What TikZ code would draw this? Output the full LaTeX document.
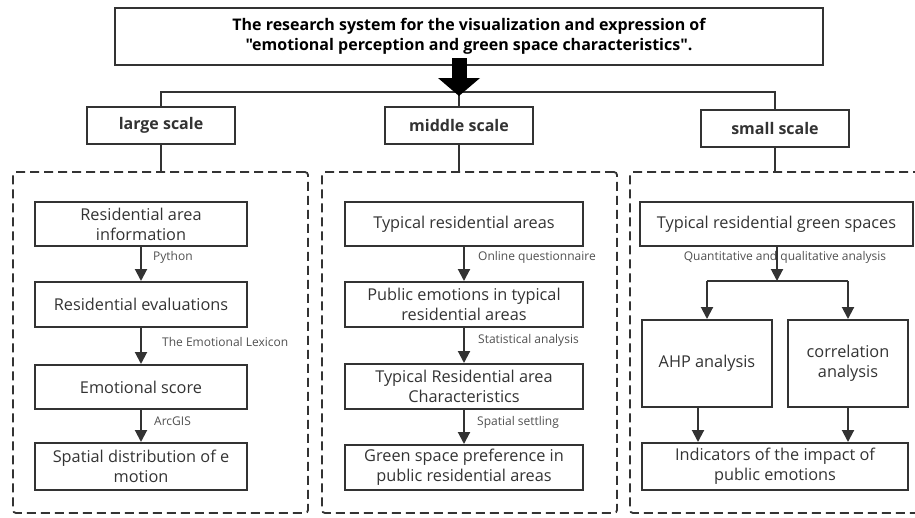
\documentclass[tikz,border=0pt]{standalone}
\usepackage{fontspec}
\setmainfont{Open Sans}
% same family without the TeX input mapping, so " stays a straight quote
\newfontfamily\plainquotefont{Open Sans}
\usetikzlibrary{arrows.meta,calc}
\definecolor{ink}{HTML}{333333}
\definecolor{labelgray}{HTML}{505050}
\begin{document}
\begin{tikzpicture}[x=1pt,y=-1pt,
  box/.style={draw=ink,line width=2pt,text=ink,align=center,inner sep=1pt,
    font=\fontsize{16.3}{20}\selectfont},
  scalebox/.style={draw=ink,line width=2pt,text=ink,align=center,
    font=\fontsize{16}{18}\selectfont\bfseries},
  panel/.style={draw=ink,line width=1.8pt,dash pattern=on 9pt off 5pt,rounded corners=3pt},
  flow/.style={draw=ink,line width=2pt,-{Triangle[width=12pt,length=12pt]}},
  link/.style={draw=ink,line width=2pt},
  steplabel/.style={text=labelgray,font=\fontsize{12}{14}\selectfont,inner sep=0pt}]
\useasboundingbox (0,0) rectangle (915,517);
\clip (0,0) rectangle (915,517);

% title and the three scales
\node[draw=ink,line width=2pt,minimum width=708pt,minimum height=57pt,align=center,
  inner sep=1pt,font=\plainquotefont\fontsize{16}{20}\selectfont\bfseries] (title) at (469,36.5)
  {The research system for the visualization and expression of\\
   "emotional perception and green space characteristics".};

\node[scalebox,minimum width=148pt,minimum height=37pt] (large) at (161,125.5) {large scale};
\node[scalebox,minimum width=148pt,minimum height=37pt] (middle) at (459,125.5) {middle scale};
\node[scalebox,minimum width=148pt,minimum height=37pt] (small) at (775,128.5) {small scale};

\coordinate (hl) at (161,92);
\coordinate (hm) at (459,92);
\coordinate (hr) at (775,92);
\coordinate (tstart) at (459,58);
\coordinate (ttip) at (459,96);

\draw[link] (large.north) -- (hl) -- (hr) -- (small.north);
\draw[link] (hm) -- (middle.north);
\draw[draw=black,line width=15pt,-{Triangle[width=41pt,length=18pt]}] (tstart) -- (ttip);

% dashed panels
\node[panel,minimum width=295pt,minimum height=341pt] (panelL) at (160.5,342.5) {};
\node[panel,minimum width=295pt,minimum height=341pt] (panelM) at (469.5,342.5) {};
\node[panel,minimum width=295pt,minimum height=341pt] (panelR) at (777.5,342.5) {};

\draw[link] (large.south) -- (large.south |- panelL.north);
\draw[link] (middle.south) -- (middle.south |- panelM.north);
\draw[link] (small.south) -- (small.south |- panelR.north);

% large scale chain
\node[box,minimum width=212pt,minimum height=44pt] (a1) at (141,224) {Residential area\\information};
\node[box,minimum width=212pt,minimum height=45pt] (a2) at (141,304.5) {Residential evaluations};
\node[box,minimum width=212pt,minimum height=44pt] (a3) at (141,387) {Emotional score};
\node[box,minimum width=212pt,minimum height=47pt] (a4) at (141,466.5) {Spatial distribution of e\\motion};
\draw[flow] (a1) -- (a2);
\draw[flow] (a2) -- (a3);
\draw[flow] (a3) -- (a4);
\node[steplabel,anchor=west] (la1) at (153,257) {Python};
\node[steplabel,anchor=west] (la2) at (162,342) {The Emotional Lexicon};
\node[steplabel,anchor=west] (la3) at (154,421) {ArcGIS};

% middle scale chain
\node[box,minimum width=238pt,minimum height=44pt] (b1) at (464,224) {Typical residential areas};
\node[box,minimum width=238pt,minimum height=45pt] (b2) at (464,304.5) {Public emotions in typical\\residential areas};
\node[box,minimum width=238pt,minimum height=45pt] (b3) at (464,386.5) {Typical Residential area\\Characteristics};
\node[box,minimum width=238pt,minimum height=45pt] (b4) at (464,467.5) {Green space preference in\\public residential areas};
\draw[flow] (b1) -- (b2);
\draw[flow] (b2) -- (b3);
\draw[flow] (b3) -- (b4);
\node[steplabel,anchor=west] (lb1) at (478,257) {Online questionnaire};
\node[steplabel,anchor=west] (lb2) at (478,340) {Statistical analysis};
\node[steplabel,anchor=west] (lb3) at (477,422) {Spatial settling};

% small scale branch
\node[box,minimum width=273pt,minimum height=44pt] (c1) at (776.5,224) {Typical residential green spaces};
\node[box,minimum width=130pt,minimum height=87pt] (c2) at (707,363.5) {AHP analysis};
\node[box,minimum width=120pt,minimum height=87pt] (c3) at (848,363.5) {correlation\\analysis};
\node[box,minimum width=266pt,minimum height=47pt] (c4) at (775,466.5) {Indicators of the impact of\\public emotions};
\node[steplabel] (lc1) at (785,257) {Quantitative and qualitative analysis};

\coordinate (split) at (777,281);
\draw[flow] (c1.south -| split) -- (split);
\draw[link] (c2.north |- split) -- (c3.north |- split);
\draw[flow] (c2.north |- split) -- (c2.north);
\draw[flow] (c3.north |- split) -- (c3.north);
\draw[flow] ([xshift=-9pt]c2.south) -- ([xshift=-9pt]c2.south |- c4.north);
\draw[flow] (c3.south) -- (c3.south |- c4.north);
\end{tikzpicture}
\end{document}
